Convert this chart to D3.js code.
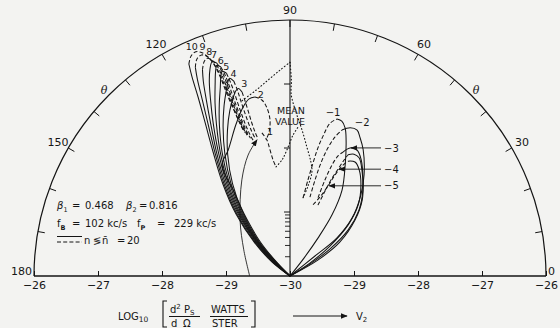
<!DOCTYPE html>
<html>
<head>
<meta charset="utf-8">
<script src="https://cdn.jsdelivr.net/npm/d3@7/dist/d3.min.js"></script>
<style>
  html, body { margin: 0; padding: 0; background: #f3f3f1; }
  svg { display: block; }
  text { font-family: "DejaVu Sans", "Liberation Sans", sans-serif; fill: #161616; }
</style>
</head>
<body>
<svg id="chart" width="560" height="328"></svg>
<script>
// Polar radiation pattern: angle theta in degrees, radius = log10(d²Ps/dΩ) in W/ster,
// with -30 at the pole and -26 on the outer circle.

// ---- axes ----
const angleLabels = [0, 30, 60, 90, 120, 150, 180];
const leftAxisTicks = [-30, -29, -28, -27, -26];
const rightAxisTicks = [-29, -28, -27, -26];
const radialMajorTicks = [-29, -28, -27];
const radialMinorMultiples = [2, 3, 4, 5, 6, 7, 8, 9];

// ---- lobes n = 1 … 10 : [theta, log10 value] ----
const n10Solid  = [[142,-30],[142,-29.64],[136.6,-29.23],[131.1,-28.72],[126.1,-28.22],[121.8,-27.72],[118.9,-27.25],[117.2,-26.86],[116.2,-26.53],[115.5,-26.33]];
const n10Dashed = [[115.5,-26.33],[114.2,-26.23],[112.8,-26.20],[111.5,-26.25],[110.5,-26.35],[109.7,-26.50],[109.3,-26.72],[109.1,-26.99],[108.7,-27.26],[108.2,-27.47],[107.7,-27.61]];
const n9Solid   = [[141,-30],[141,-29.65],[135.8,-29.23],[130.5,-28.72],[125.5,-28.22],[121.2,-27.73],[118.2,-27.28],[116.4,-26.91],[115.2,-26.60],[114.4,-26.42]];
const n9Dashed  = [[114.4,-26.42],[113.2,-26.31],[111.8,-26.28],[110.6,-26.34],[109.8,-26.46],[109.2,-26.65],[108.9,-26.90],[108.7,-27.15],[108.4,-27.38],[107.9,-27.56],[107.3,-27.66]];
const n8Solid   = [[140,-30],[140,-29.66],[135,-29.24],[129.8,-28.73],[124.9,-28.23],[120.6,-27.74],[117.4,-27.30],[115.4,-26.95],[114.0,-26.67],[113.0,-26.50]];
const n8Dashed  = [[113.0,-26.50],[111.8,-26.39],[110.8,-26.36],[109.8,-26.42],[109.1,-26.54],[108.7,-26.72],[108.5,-26.95],[108.3,-27.20],[108.0,-27.42],[107.5,-27.60],[106.9,-27.70]];
const n7Solid   = [[139,-30],[139,-29.67],[134.4,-29.25],[129.2,-28.74],[124.3,-28.24],[120,-27.76],[116.7,-27.33],[114.4,-27.0],[112.6,-26.72],[111.2,-26.54],[110.0,-26.44],[109.0,-26.48]];
const n7Dashed  = [[109.0,-26.48],[108.5,-26.60],[108.2,-26.80],[108.1,-27.02],[107.9,-27.24],[107.6,-27.45],[107.1,-27.62],[106.5,-27.73]];
const n6Solid   = [[138,-30],[138,-29.67],[133.8,-29.25],[128.6,-28.75],[123.7,-28.25],[119.4,-27.78],[115.9,-27.37],[113.4,-27.05],[111.3,-26.78],[110.0,-26.60],[109.2,-26.52],[108.3,-26.56]];
const n6Dashed  = [[108.3,-26.56],[107.9,-26.70],[107.7,-26.90],[107.6,-27.10],[107.4,-27.30],[107.1,-27.50],[106.6,-27.66],[106.0,-27.76]];
const n5Solid   = [[137,-30],[137,-29.68],[133.2,-29.26],[128,-28.76],[123.1,-28.26],[118.8,-27.80],[115.1,-27.40],[112.4,-27.10],[110.3,-26.86],[109.1,-26.70],[108.3,-26.63],[107.4,-26.68]];
const n5Dashed  = [[107.4,-26.68],[107.1,-26.82],[106.9,-27.0],[106.8,-27.20],[106.6,-27.40],[106.3,-27.57],[105.8,-27.71],[105.2,-27.80]];
const n4Solid   = [[136,-30],[136,-29.69],[132.6,-29.27],[127.4,-28.77],[122.5,-28.28],[118.0,-27.83],[114.2,-27.45],[111.2,-27.15],[108.9,-26.93],[107.8,-26.82],[107.0,-26.77],[106.1,-26.83]];
const n4Dashed  = [[106.1,-26.83],[105.8,-26.98],[105.7,-27.15],[105.5,-27.34],[105.2,-27.52],[104.8,-27.67],[104.2,-27.78]];
const n3Solid   = [[135,-30],[135,-29.70],[132,-29.28],[126.8,-28.78],[121.9,-28.30],[117.2,-27.87],[113.2,-27.52],[110,-27.25],[107.6,-27.07],[106.4,-26.99],[105.4,-26.96],[104.6,-27.03]];
const n3Dashed  = [[104.6,-27.03],[104.4,-27.18],[104.2,-27.36],[104.0,-27.54],[103.6,-27.70],[103.1,-27.80]];
const n2Solid   = [[134,-30],[134,-29.70],[131,-29.29],[126.5,-28.80],[123.5,-28.40],[121.5,-27.97],[116.2,-27.81],[109.7,-27.49],[105.5,-27.26],[103.0,-27.16],[101.1,-27.15]];
const n2Dashed  = [[101.1,-27.15],[99.0,-27.22],[97.8,-27.35],[97.3,-27.54],[98.3,-27.73],[100,-27.84]];
const n1Solid   = [[180,-29.37],[150.5,-29.17],[131.8,-28.83],[116.6,-28.32],[109.1,-28.0],[103.6,-27.81]];
const n1Dashed  = [[101.1,-27.72],[99.6,-27.85],[99.0,-28.01],[98.3,-28.17],[97.3,-28.28]];

// ---- lobes n = -1 … -5 ----
const m1Dashed = [[80.5,-28.76],[79.4,-28.47],[78.5,-28.20],[77.7,-27.95],[76.7,-27.75],[75.3,-27.53],[73.3,-27.44]];
const m1Solid  = [[73.3,-27.44],[71.5,-27.45],[69.6,-27.53],[67.6,-27.70],[63.6,-28.06],[58.8,-28.43],[55.5,-28.84],[53.6,-29.26],[52.1,-29.64],[51,-30]];
const m2Dashed = [[75.8,-28.73],[75.4,-28.45],[74.7,-28.17],[73.5,-27.91],[72.1,-27.72],[70.4,-27.58]];
const m2Solid  = [[70.4,-27.58],[67.9,-27.50],[65.3,-27.49],[63.3,-27.57],[59.9,-27.72],[53.8,-28.04],[48.8,-28.32],[43.1,-28.67],[39.0,-29.06],[38.7,-29.50],[38,-30]];
const m3Dashed = [[70.3,-28.70],[70.0,-28.40],[69.3,-28.15],[68.2,-27.98],[67.1,-27.91]];
const m3Solid  = [[67.1,-27.91],[64.9,-27.79],[62.0,-27.77],[58.5,-27.87],[53.6,-28.08],[46.5,-28.36],[40.7,-28.66],[34.2,-29.06],[29.7,-29.50],[28,-30]];
const m4Dashed = [[68.5,-28.81],[67.7,-28.60],[66.9,-28.37],[65.8,-28.17],[65.0,-28.0],[64.4,-27.90]];
const m4Solid  = [[64.4,-27.90],[62.3,-27.85],[59.7,-27.86],[55.8,-28.0],[49.7,-28.24],[43.7,-28.51],[38.4,-28.84],[34.0,-29.25],[31.0,-29.64],[30,-30]];
const m5Dashed = [[72.1,-28.83],[69.2,-28.68],[67.1,-28.47],[66.0,-28.27],[64.7,-28.10],[63.2,-27.99]];
const m5Solid  = [[63.2,-27.99],[60.3,-27.95],[56.9,-28.02],[52.0,-28.20],[46.2,-28.46],[41.3,-28.79],[36.9,-29.22],[33.0,-29.63],[32,-30]];

// ---- mean value (dotted) ----
const meanUpper  = [[105.3,-27.16],[100.4,-27.05],[96.4,-26.92],[92.8,-26.78],[90,-26.66]];
const meanRight  = [[90,-26.66],[89.6,-26.94],[89.6,-27.17],[87.9,-27.44],[85.3,-27.71],[82.4,-27.98],[79.6,-28.19],[78.1,-28.34],[78.7,-28.57],[80.5,-28.76]];
const meanCentre = [[97.3,-28.28],[93.9,-28.18],[91.4,-28.03],[88.8,-27.80],[86.9,-27.67]];

const positiveLobes = [
  ["10", n10Solid, n10Dashed], ["9", n9Solid, n9Dashed], ["8", n8Solid, n8Dashed],
  ["7", n7Solid, n7Dashed], ["6", n6Solid, n6Dashed], ["5", n5Solid, n5Dashed],
  ["4", n4Solid, n4Dashed], ["3", n3Solid, n3Dashed], ["2", n2Solid, n2Dashed],
  ["1", n1Solid, n1Dashed]
];
const negativeLobes = [
  ["\u22121", m1Solid, m1Dashed], ["\u22122", m2Solid, m2Dashed], ["\u22123", m3Solid, m3Dashed],
  ["\u22124", m4Solid, m4Dashed], ["\u22125", m5Solid, m5Dashed]
];

// ---- geometry ----
const svg = d3.select("#chart");
const cx = 290, cy = 276, R = 256;
const ink = "#141414";
const rScale = d3.scaleLinear().domain([-30, -26]).range([0, R]);
const toXY = (t, v) => {
  const a = t * Math.PI / 180, r = rScale(v);
  return [cx + r * Math.cos(a), cy - r * Math.sin(a)];
};
const radial = d3.lineRadial()
  .angle(d => (90 - d[0]) * Math.PI / 180)
  .radius(d => rScale(d[1]))
  .curve(d3.curveCatmullRom.alpha(0.5));

const defs = svg.append("defs");
defs.append("marker").attr("id", "head")
  .attr("viewBox", "0 0 10 10").attr("refX", 9).attr("refY", 5)
  .attr("markerWidth", 7).attr("markerHeight", 7).attr("markerUnits", "userSpaceOnUse")
  .attr("orient", "auto")
  .append("path").attr("d", "M0,1 L10,5 L0,9 Z").attr("fill", ink);

// ---- frame: half circle, baseline, vertical axis ----
const frame = svg.append("g").attr("stroke", ink).attr("fill", "none");
const arcPath = d3.path();
arcPath.moveTo(cx - R, cy);
arcPath.arc(cx, cy, R, Math.PI, 2 * Math.PI);
frame.append("path").attr("d", arcPath.toString()).attr("stroke-width", 1.2);
frame.append("line").attr("x1", cx - R).attr("x2", cx + R).attr("y1", cy).attr("y2", cy).attr("stroke-width", 1.3);
frame.append("line").attr("x1", cx).attr("x2", cx).attr("y1", cy).attr("y2", cy - R).attr("stroke-width", 1.1);

// angle ticks every 10 degrees, pointing inward
d3.range(10, 180, 10).forEach(t => {
  const [x1, y1] = toXY(t, -26);
  const a = t * Math.PI / 180;
  frame.append("line").attr("x1", x1).attr("y1", y1)
    .attr("x2", x1 - 7 * Math.cos(a)).attr("y2", y1 + 7 * Math.sin(a)).attr("stroke-width", 1);
});

// ticks on the vertical (90 degree) axis
radialMajorTicks.forEach(v => {
  const y = cy - rScale(v);
  frame.append("line").attr("x1", cx - 6).attr("x2", cx).attr("y1", y).attr("y2", y).attr("stroke-width", 1);
});
radialMinorMultiples.forEach(k => {
  const y = cy - rScale(-30 + Math.log10(k));
  frame.append("line").attr("x1", cx - 5).attr("x2", cx).attr("y1", y).attr("y2", y).attr("stroke-width", 0.9);
});

// horizontal log axis, both halves
const fmt = v => String(v).replace("-", "\u2212");
const leftScale = d3.scaleLinear().domain([-30, -26]).range([cx, cx - R]);
const rightScale = d3.scaleLinear().domain([-30, -26]).range([cx, cx + R]);
const axL = svg.append("g").attr("transform", `translate(0,${cy})`)
  .call(d3.axisBottom(leftScale).tickValues(leftAxisTicks).tickSize(-5).tickPadding(5).tickFormat(fmt));
const axR = svg.append("g").attr("transform", `translate(0,${cy})`)
  .call(d3.axisBottom(rightScale).tickValues(rightAxisTicks).tickSize(-5).tickPadding(5).tickFormat(fmt));
[axL, axR].forEach(g => {
  g.select(".domain").remove();
  g.selectAll(".tick line").attr("stroke", ink).attr("stroke-width", 1);
  g.selectAll(".tick text").attr("fill", ink).style("font-size", "11px")
    .style("font-family", "DejaVu Sans, sans-serif");
});

// angle labels
angleLabels.forEach(t => {
  let x, y, anchor = "middle";
  if (t === 0) { x = cx + R + 2; y = cy - 5; anchor = "start"; }
  else if (t === 180) { x = cx - R - 2; y = cy - 5; anchor = "end"; }
  else { [x, y] = toXY(t, -26 + 12 / 64 * (t === 90 ? 0.8 : 1)); }
  svg.append("text").attr("x", x).attr("y", y).attr("dy", "0.36em")
    .attr("text-anchor", anchor).style("font-size", "11px").text(t);
});
[45, 135].forEach(t => {
  const [x, y] = toXY(t, -26 + 7 / 64);
  svg.append("text").attr("x", x).attr("y", y).attr("dy", "0.36em").attr("text-anchor", "middle")
    .style("font-family", "DejaVu Serif, serif").style("font-style", "italic")
    .style("font-size", "11px").text("\u03b8");
});

// ---- curves ----
const plot = svg.append("g").attr("transform", `translate(${cx},${cy})`)
  .attr("fill", "none").attr("stroke", ink).attr("stroke-linejoin", "round");

function drawLobe(solid, dashed, arrowOnSolid) {
  const s = plot.append("path").attr("d", radial(solid)).attr("stroke-width", 1.05);
  if (arrowOnSolid) s.attr("marker-end", "url(#head)").attr("stroke-width", 0.85);
  plot.append("path").attr("d", radial(dashed)).attr("stroke-width", 1.05)
    .attr("stroke-dasharray", "4 2.2");
}
positiveLobes.forEach(([name, s, d]) => drawLobe(s, d, name === "1"));
negativeLobes.forEach(([name, s, d]) => drawLobe(s, d, false));

[meanUpper, meanRight, meanCentre].forEach(m => {
  plot.append("path").attr("d", radial(m)).attr("stroke-width", 1.1)
    .attr("stroke-dasharray", "0.8 2.6").attr("stroke-linecap", "round");
});

// ---- lobe labels ----
const labelOffsets = {
  "10": [-4, -5], "9": [1, -8], "8": [2, -7], "7": [2, -7], "6": [4, -5],
  "5": [4, -5], "4": [4, -5], "3": [6, -5], "2": [6, -2], "1": [8, -1],
  "\u22121": [-4, -7], "\u22122": [5, -8]
};
function tipOf(points) {
  return points.reduce((a, b) => (b[1] > a[1] ? b : a));
}
positiveLobes.forEach(([name, s, d]) => {
  const tip = name === "1" ? d[0] : tipOf(s.concat(d));
  const [x, y] = toXY(tip[0], tip[1]);
  const [ox, oy] = labelOffsets[name];
  svg.append("text").attr("x", x + ox).attr("y", y + oy).attr("dy", "0.36em")
    .attr("text-anchor", "middle").style("font-size", "9.5px").text(name);
});
negativeLobes.slice(0, 2).forEach(([name, s, d]) => {
  const tip = tipOf(s.concat(d));
  const [x, y] = toXY(tip[0], tip[1]);
  const [ox, oy] = labelOffsets[name];
  svg.append("text").attr("x", x + ox).attr("y", y + oy).attr("dy", "0.36em")
    .attr("text-anchor", "middle").style("font-size", "10px").text(name);
});
// arrowed labels for -3, -4, -5
const arrowed = [["\u22123", m3Solid[1]], ["\u22124", m4Dashed[3]], ["\u22125", m5Dashed[2]]];
arrowed.forEach(([name, pt]) => {
  const [x, y] = toXY(pt[0], pt[1]);
  svg.append("line").attr("x1", 381).attr("y1", y).attr("x2", x + 1).attr("y2", y)
    .attr("stroke", ink).attr("stroke-width", 0.9).attr("marker-end", "url(#head)");
  svg.append("text").attr("x", 384).attr("y", y).attr("dy", "0.36em")
    .style("font-size", "10px").text(name);
});

// MEAN VALUE
svg.append("text").attr("x", cx + 1).attr("y", 114).attr("text-anchor", "middle")
  .style("font-size", "9.5px").text("MEAN");
svg.append("text").attr("x", cx).attr("y", 124.5).attr("text-anchor", "middle")
  .style("font-size", "9.5px").text("VALUE");

// ---- legend ----
const leg = svg.append("g").style("font-size", "10px");
let t1 = leg.append("text").attr("y", 209);
t1.append("tspan").attr("x", 57).style("font-style", "italic").text("\u03b2");
t1.append("tspan").attr("dy", 3).style("font-size", "6.5px").text("1");
t1.append("tspan").attr("x", 72).attr("dy", -3).text("=");
t1.append("tspan").attr("x", 85).text("0.468");
t1.append("tspan").attr("x", 126).style("font-style", "italic").text("\u03b2");
t1.append("tspan").attr("dy", 3).style("font-size", "6.5px").text("2");
t1.append("tspan").attr("x", 139).attr("dy", -3).text("=");
t1.append("tspan").attr("x", 149).text("0.816");

let t2 = leg.append("text").attr("y", 227);
t2.append("tspan").attr("x", 57).text("f");
t2.append("tspan").attr("dy", 3).style("font-size", "6.5px").style("font-weight", "bold").text("B");
t2.append("tspan").attr("x", 72).attr("dy", -3).text("=");
t2.append("tspan").attr("x", 85).text("102 kc/s");
t2.append("tspan").attr("x", 137).text("f");
t2.append("tspan").attr("dy", 3).style("font-size", "6.5px").style("font-weight", "bold").text("P");
t2.append("tspan").attr("x", 157).attr("dy", -3).text("=");
t2.append("tspan").attr("x", 174).text("229 kc/s");

leg.append("line").attr("x1", 57).attr("x2", 82).attr("y1", 236.5).attr("y2", 236.5)
  .attr("stroke", ink).attr("stroke-width", 1);
leg.append("line").attr("x1", 57).attr("x2", 82).attr("y1", 242).attr("y2", 242)
  .attr("stroke", ink).attr("stroke-width", 1).attr("stroke-dasharray", "4 2.2");
let t3 = leg.append("text").attr("y", 244);
t3.append("tspan").attr("x", 84).text("n");
t3.append("tspan").attr("x", 93).text("\u2276");
t3.append("tspan").attr("x", 102).text("n\u0304");
t3.append("tspan").attr("x", 117).text("=");
t3.append("tspan").attr("x", 127).text("20");

// ---- axis title ----
const ttl = svg.append("g").style("font-size", "10px");
let lg = ttl.append("text").attr("y", 320);
lg.append("tspan").attr("x", 118).text("LOG");
lg.append("tspan").attr("dy", 2).style("font-size", "7.5px").text("10");
const brk = (x, dir) => `M${x + 4 * dir},301 L${x},301 L${x},327 L${x + 4 * dir},327`;
ttl.append("path").attr("d", brk(163, 1)).attr("fill", "none").attr("stroke", ink).attr("stroke-width", 1.1);
ttl.append("path").attr("d", brk(255, -1)).attr("fill", "none").attr("stroke", ink).attr("stroke-width", 1.1);
let num = ttl.append("text").attr("y", 313);
num.append("tspan").attr("x", 170).text("d");
num.append("tspan").attr("dy", -4).style("font-size", "7px").text("2");
num.append("tspan").attr("x", 184).attr("dy", 4).text("P");
num.append("tspan").attr("dy", 2).style("font-size", "7px").text("S");
ttl.append("line").attr("x1", 169).attr("x2", 200).attr("y1", 316.5).attr("y2", 316.5).attr("stroke", ink).attr("stroke-width", 1);
let den = ttl.append("text").attr("y", 326.5);
den.append("tspan").attr("x", 171).text("d");
den.append("tspan").attr("x", 183).text("\u03a9");
ttl.append("text").attr("x", 211).attr("y", 313).text("WATTS");
ttl.append("line").attr("x1", 210).attr("x2", 248).attr("y1", 316.5).attr("y2", 316.5).attr("stroke", ink).attr("stroke-width", 1);
ttl.append("text").attr("x", 212).attr("y", 326.5).text("STER");
ttl.append("line").attr("x1", 293).attr("x2", 347).attr("y1", 316).attr("y2", 316)
  .attr("stroke", ink).attr("stroke-width", 1).attr("marker-end", "url(#head)");
let v2 = ttl.append("text").attr("y", 320);
v2.append("tspan").attr("x", 356).text("V");
v2.append("tspan").attr("dy", 2).style("font-size", "7px").text("2");
</script>
</body>
</html>
